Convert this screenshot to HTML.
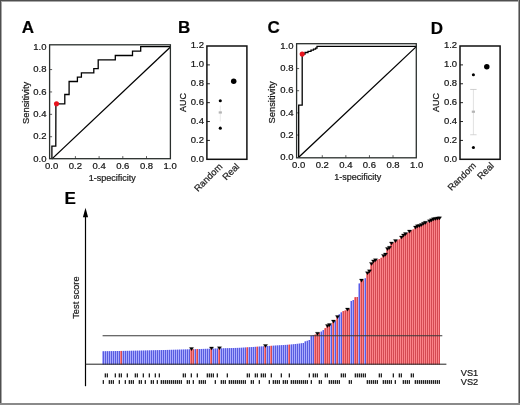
<!DOCTYPE html>
<html><head><meta charset="utf-8"><style>
html,body{margin:0;padding:0;background:#fff;}
#w{position:relative;width:520px;height:405px;overflow:hidden;background:#fff;}
svg{position:absolute;left:0;top:0;font-family:"Liberation Sans", sans-serif;will-change:transform;}
text{stroke:#1a1a1a;stroke-width:0.22px;}
.b{position:absolute;}
</style></head><body><div id="w">
<svg width="520" height="405" viewBox="0 0 520 405">
<text x="21.8" y="33.3" font-size="17" text-anchor="start" font-weight="bold" fill="#000" >A</text>
<text x="178.0" y="33.2" font-size="17" text-anchor="start" font-weight="bold" fill="#000" >B</text>
<text x="267.4" y="33.3" font-size="17" text-anchor="start" font-weight="bold" fill="#000" >C</text>
<text x="430.7" y="33.8" font-size="17" text-anchor="start" font-weight="bold" fill="#000" >D</text>
<text x="64.6" y="203.8" font-size="17" text-anchor="start" font-weight="bold" fill="#000" >E</text>
<text x="46.5" y="161.79" font-size="9.5" text-anchor="end" font-weight="normal" fill="#111" >0.0</text>
<text x="46.5" y="139.42" font-size="9.5" text-anchor="end" font-weight="normal" fill="#111" >0.2</text>
<line x1="49.6" y1="136.72" x2="52.1" y2="136.72" stroke="#333" stroke-width="0.8"/>
<text x="46.5" y="117.03" font-size="9.5" text-anchor="end" font-weight="normal" fill="#111" >0.4</text>
<line x1="49.6" y1="114.33" x2="52.1" y2="114.33" stroke="#333" stroke-width="0.8"/>
<text x="46.5" y="94.65" font-size="9.5" text-anchor="end" font-weight="normal" fill="#111" >0.6</text>
<line x1="49.6" y1="91.95" x2="52.1" y2="91.95" stroke="#333" stroke-width="0.8"/>
<text x="46.5" y="72.27" font-size="9.5" text-anchor="end" font-weight="normal" fill="#111" >0.8</text>
<line x1="49.6" y1="69.57" x2="52.1" y2="69.57" stroke="#333" stroke-width="0.8"/>
<text x="46.5" y="49.89" font-size="9.5" text-anchor="end" font-weight="normal" fill="#111" >1.0</text>
<text x="51.7" y="168.6" font-size="9.5" text-anchor="middle" font-weight="normal" fill="#111" >0.0</text>
<text x="75.4" y="168.6" font-size="9.5" text-anchor="middle" font-weight="normal" fill="#111" >0.2</text>
<line x1="75.4" y1="158.7" x2="75.4" y2="156.1" stroke="#333" stroke-width="0.8"/>
<text x="99.10" y="168.6" font-size="9.5" text-anchor="middle" font-weight="normal" fill="#111" >0.4</text>
<line x1="99.10" y1="158.7" x2="99.10" y2="156.1" stroke="#333" stroke-width="0.8"/>
<text x="122.80" y="168.6" font-size="9.5" text-anchor="middle" font-weight="normal" fill="#111" >0.6</text>
<line x1="122.80" y1="158.7" x2="122.80" y2="156.1" stroke="#333" stroke-width="0.8"/>
<text x="146.5" y="168.6" font-size="9.5" text-anchor="middle" font-weight="normal" fill="#111" >0.8</text>
<line x1="146.5" y1="158.7" x2="146.5" y2="156.1" stroke="#333" stroke-width="0.8"/>
<text x="170.2" y="168.6" font-size="9.5" text-anchor="middle" font-weight="normal" fill="#111" >1.0</text>
<line x1="51.7" y1="159.1" x2="170.2" y2="47.19" stroke="#000" stroke-width="1.3"/>
<polyline points="51.9,159.1 51.9,146.1 55.8,146.1 55.9,103.8 64.8,103.8 64.8,94.5 69.1,94.5 69.1,81.5 77.4,81.5 77.4,77.2 81.4,77.2 81.4,72.8 93.8,72.8 93.8,68.6 98.2,68.6 98.2,59.9 115.3,59.9 115.3,55.5 132.5,55.5 132.5,51.1 140.7,51.1 140.7,46.6 170.4,46.6" fill="none" stroke="#000" stroke-width="1.3" stroke-linejoin="miter"/>
<rect x="49.6" y="44.8" width="120.80" height="113.89" fill="none" stroke="#2a2f2d" stroke-width="1.3"/>
<circle cx="56.5" cy="103.8" r="2.55" fill="#e8141e"/>
<text x="112.2" y="180.9" font-size="9" text-anchor="middle" font-weight="normal" fill="#222" >1-specificity</text>
<text x="28.8" y="102.9" font-size="9.4" text-anchor="middle" fill="#151515" transform="rotate(-90 28.8 102.9)">Sensitivity</text>
<text x="293.5" y="159.89" font-size="9.5" text-anchor="end" font-weight="normal" fill="#111" >0.0</text>
<text x="293.5" y="137.73" font-size="9.5" text-anchor="end" font-weight="normal" fill="#111" >0.2</text>
<line x1="296.6" y1="135.04" x2="299.1" y2="135.04" stroke="#333" stroke-width="0.8"/>
<text x="293.5" y="115.58" font-size="9.5" text-anchor="end" font-weight="normal" fill="#111" >0.4</text>
<line x1="296.6" y1="112.88" x2="299.1" y2="112.88" stroke="#333" stroke-width="0.8"/>
<text x="293.5" y="93.41" font-size="9.5" text-anchor="end" font-weight="normal" fill="#111" >0.6</text>
<line x1="296.6" y1="90.71" x2="299.1" y2="90.71" stroke="#333" stroke-width="0.8"/>
<text x="293.5" y="71.25" font-size="9.5" text-anchor="end" font-weight="normal" fill="#111" >0.8</text>
<line x1="296.6" y1="68.55" x2="299.1" y2="68.55" stroke="#333" stroke-width="0.8"/>
<text x="293.5" y="49.09" font-size="9.5" text-anchor="end" font-weight="normal" fill="#111" >1.0</text>
<text x="298.7" y="168.0" font-size="9.5" text-anchor="middle" font-weight="normal" fill="#111" >0.0</text>
<text x="322.28" y="168.0" font-size="9.5" text-anchor="middle" font-weight="normal" fill="#111" >0.2</text>
<line x1="322.28" y1="157.8" x2="322.28" y2="155.20" stroke="#333" stroke-width="0.8"/>
<text x="345.86" y="168.0" font-size="9.5" text-anchor="middle" font-weight="normal" fill="#111" >0.4</text>
<line x1="345.86" y1="157.8" x2="345.86" y2="155.20" stroke="#333" stroke-width="0.8"/>
<text x="369.44" y="168.0" font-size="9.5" text-anchor="middle" font-weight="normal" fill="#111" >0.6</text>
<line x1="369.44" y1="157.8" x2="369.44" y2="155.20" stroke="#333" stroke-width="0.8"/>
<text x="393.02" y="168.0" font-size="9.5" text-anchor="middle" font-weight="normal" fill="#111" >0.8</text>
<line x1="393.02" y1="157.8" x2="393.02" y2="155.20" stroke="#333" stroke-width="0.8"/>
<text x="416.6" y="168.0" font-size="9.5" text-anchor="middle" font-weight="normal" fill="#111" >1.0</text>
<line x1="298.7" y1="157.2" x2="416.6" y2="46.39" stroke="#000" stroke-width="1.3"/>
<polyline points="298.7,157.4 298.7,105.2 302.2,105.2 302.2,54.0 305.0,54.0 305.0,52.5 308.0,52.5 308.0,51.3 311.0,51.3 311.0,50.2 313.5,50.2 313.5,49.2 315.6,49.2 315.6,48.2 317.0,48.2 317.0,46.4 416.3,46.4" fill="none" stroke="#000" stroke-width="1.3" stroke-linejoin="miter"/>
<rect x="296.6" y="43.7" width="119.69" height="114.10" fill="none" stroke="#2a2f2d" stroke-width="1.3"/>
<circle cx="302.2" cy="54.1" r="2.55" fill="#e8141e"/>
<text x="357.8" y="180.3" font-size="9" text-anchor="middle" font-weight="normal" fill="#222" >1-specificity</text>
<text x="275.3" y="102.4" font-size="9.4" text-anchor="middle" fill="#151515" transform="rotate(-90 275.3 102.4)">Sensitivity</text>
<text x="204.0" y="161.60" font-size="9.5" text-anchor="end" font-weight="normal" fill="#111" >0.0</text>
<text x="204.0" y="142.72" font-size="9.5" text-anchor="end" font-weight="normal" fill="#111" >0.2</text>
<line x1="206.9" y1="140.42" x2="209.9" y2="140.42" stroke="#222" stroke-width="1.0"/>
<text x="204.0" y="123.84" font-size="9.5" text-anchor="end" font-weight="normal" fill="#111" >0.4</text>
<line x1="206.9" y1="121.54" x2="209.9" y2="121.54" stroke="#222" stroke-width="1.0"/>
<text x="204.0" y="104.96" font-size="9.5" text-anchor="end" font-weight="normal" fill="#111" >0.6</text>
<line x1="206.9" y1="102.66" x2="209.9" y2="102.66" stroke="#222" stroke-width="1.0"/>
<text x="204.0" y="86.08" font-size="9.5" text-anchor="end" font-weight="normal" fill="#111" >0.8</text>
<line x1="206.9" y1="83.78" x2="209.9" y2="83.78" stroke="#222" stroke-width="1.0"/>
<text x="204.0" y="67.2" font-size="9.5" text-anchor="end" font-weight="normal" fill="#111" >1.0</text>
<line x1="206.9" y1="64.9" x2="209.9" y2="64.9" stroke="#222" stroke-width="1.0"/>
<text x="204.0" y="48.31" font-size="9.5" text-anchor="end" font-weight="normal" fill="#111" >1.2</text>
<line x1="220.3" y1="105.49" x2="220.3" y2="121.54" stroke="#e2e2e2" stroke-width="0.7"/>
<rect x="218.70" y="111.37" width="3.2" height="2.2" fill="#b4b4b4"/>
<circle cx="220.3" cy="100.77" r="1.55" fill="#000"/>
<circle cx="220.3" cy="128.14" r="1.55" fill="#000"/>
<circle cx="233.70" cy="81.13" r="2.75" fill="#000"/>
<rect x="206.9" y="46.0" width="40.0" height="113.30" fill="none" stroke="#111" stroke-width="1.5"/>
<text x="223.0" y="167.2" font-size="9.4" text-anchor="end" fill="#222" transform="rotate(-45 223.0 167.2)">Random</text>
<text x="239.9" y="167.2" font-size="9.4" text-anchor="end" fill="#222" transform="rotate(-45 239.9 167.2)">Real</text>
<text x="186.3" y="102.5" font-size="9" text-anchor="middle" fill="#151515" transform="rotate(-90 186.3 102.5)">AUC</text>
<text x="457.1" y="161.60" font-size="9.5" text-anchor="end" font-weight="normal" fill="#111" >0.0</text>
<text x="457.1" y="142.72" font-size="9.5" text-anchor="end" font-weight="normal" fill="#111" >0.2</text>
<line x1="460.0" y1="140.42" x2="463.0" y2="140.42" stroke="#222" stroke-width="1.0"/>
<text x="457.1" y="123.84" font-size="9.5" text-anchor="end" font-weight="normal" fill="#111" >0.4</text>
<line x1="460.0" y1="121.54" x2="463.0" y2="121.54" stroke="#222" stroke-width="1.0"/>
<text x="457.1" y="104.96" font-size="9.5" text-anchor="end" font-weight="normal" fill="#111" >0.6</text>
<line x1="460.0" y1="102.66" x2="463.0" y2="102.66" stroke="#222" stroke-width="1.0"/>
<text x="457.1" y="86.08" font-size="9.5" text-anchor="end" font-weight="normal" fill="#111" >0.8</text>
<line x1="460.0" y1="83.78" x2="463.0" y2="83.78" stroke="#222" stroke-width="1.0"/>
<text x="457.1" y="67.2" font-size="9.5" text-anchor="end" font-weight="normal" fill="#111" >1.0</text>
<line x1="460.0" y1="64.9" x2="463.0" y2="64.9" stroke="#222" stroke-width="1.0"/>
<text x="457.1" y="48.31" font-size="9.5" text-anchor="end" font-weight="normal" fill="#111" >1.2</text>
<line x1="473.4" y1="89.44" x2="473.4" y2="134.75" stroke="#d4d4d4" stroke-width="0.7"/>
<line x1="470.2" y1="89.44" x2="476.59" y2="89.44" stroke="#c4c4c4" stroke-width="0.8"/>
<line x1="470.2" y1="134.75" x2="476.59" y2="134.75" stroke="#cccccc" stroke-width="0.8"/>
<rect x="471.79" y="110.62" width="3.2" height="2.2" fill="#b4b4b4"/>
<circle cx="473.4" cy="74.71" r="1.55" fill="#000"/>
<circle cx="473.4" cy="147.5" r="1.55" fill="#000"/>
<circle cx="486.8" cy="66.78" r="2.75" fill="#000"/>
<rect x="460.0" y="46.0" width="40.10" height="113.30" fill="none" stroke="#111" stroke-width="1.5"/>
<text x="476.6" y="166.3" font-size="9.4" text-anchor="end" fill="#222" transform="rotate(-45 476.6 166.3)">Random</text>
<text x="494.6" y="166.3" font-size="9.4" text-anchor="end" fill="#222" transform="rotate(-45 494.6 166.3)">Real</text>
<text x="438.5" y="102.5" font-size="9" text-anchor="middle" fill="#151515" transform="rotate(-90 438.5 102.5)">AUC</text>
<rect x="102" y="351.28" width="2" height="13.22" fill="#b4b6ff"/>
<rect x="102.9" y="351.28" width="1.1" height="13.22" fill="#585ce0"/>
<rect x="104" y="351.24" width="2" height="13.26" fill="#b4b6ff"/>
<rect x="104.9" y="351.24" width="1.1" height="13.26" fill="#585ce0"/>
<rect x="106" y="351.21" width="2" height="13.29" fill="#b4b6ff"/>
<rect x="106.9" y="351.21" width="1.1" height="13.29" fill="#585ce0"/>
<rect x="108" y="351.17" width="2" height="13.33" fill="#b4b6ff"/>
<rect x="108.9" y="351.17" width="1.1" height="13.33" fill="#585ce0"/>
<rect x="110" y="351.13" width="2" height="13.37" fill="#b4b6ff"/>
<rect x="110.9" y="351.13" width="1.1" height="13.37" fill="#585ce0"/>
<rect x="112" y="351.10" width="2" height="13.40" fill="#b4b6ff"/>
<rect x="112.9" y="351.10" width="1.1" height="13.40" fill="#585ce0"/>
<rect x="114" y="351.06" width="2" height="13.44" fill="#b4b6ff"/>
<rect x="114.9" y="351.06" width="1.1" height="13.44" fill="#585ce0"/>
<rect x="116" y="351.02" width="2" height="13.48" fill="#b4b6ff"/>
<rect x="116.9" y="351.02" width="1.1" height="13.48" fill="#585ce0"/>
<rect x="118" y="350.99" width="2" height="13.51" fill="#b4b6ff"/>
<rect x="118.9" y="350.99" width="1.1" height="13.51" fill="#585ce0"/>
<rect x="120" y="350.95" width="2" height="13.55" fill="#ff8d90"/>
<rect x="120.9" y="350.95" width="1.1" height="13.55" fill="#d44a52"/>
<rect x="122" y="350.91" width="2" height="13.59" fill="#b4b6ff"/>
<rect x="122.9" y="350.91" width="1.1" height="13.59" fill="#585ce0"/>
<rect x="124" y="350.88" width="2" height="13.62" fill="#b4b6ff"/>
<rect x="124.9" y="350.88" width="1.1" height="13.62" fill="#585ce0"/>
<rect x="126" y="350.84" width="2" height="13.66" fill="#b4b6ff"/>
<rect x="126.9" y="350.84" width="1.1" height="13.66" fill="#585ce0"/>
<rect x="128" y="350.80" width="2" height="13.70" fill="#b4b6ff"/>
<rect x="128.9" y="350.80" width="1.1" height="13.70" fill="#585ce0"/>
<rect x="130" y="350.77" width="2" height="13.73" fill="#b4b6ff"/>
<rect x="130.9" y="350.77" width="1.1" height="13.73" fill="#585ce0"/>
<rect x="132" y="350.73" width="2" height="13.77" fill="#b4b6ff"/>
<rect x="132.9" y="350.73" width="1.1" height="13.77" fill="#585ce0"/>
<rect x="134" y="350.69" width="2" height="13.81" fill="#b4b6ff"/>
<rect x="134.9" y="350.69" width="1.1" height="13.81" fill="#585ce0"/>
<rect x="136" y="350.66" width="2" height="13.84" fill="#b4b6ff"/>
<rect x="136.9" y="350.66" width="1.1" height="13.84" fill="#585ce0"/>
<rect x="138" y="350.62" width="2" height="13.88" fill="#b4b6ff"/>
<rect x="138.9" y="350.62" width="1.1" height="13.88" fill="#585ce0"/>
<rect x="140" y="350.58" width="2" height="13.92" fill="#b4b6ff"/>
<rect x="140.9" y="350.58" width="1.1" height="13.92" fill="#585ce0"/>
<rect x="142" y="350.53" width="2" height="13.97" fill="#b4b6ff"/>
<rect x="142.9" y="350.53" width="1.1" height="13.97" fill="#585ce0"/>
<rect x="144" y="350.48" width="2" height="14.02" fill="#b4b6ff"/>
<rect x="144.9" y="350.48" width="1.1" height="14.02" fill="#585ce0"/>
<rect x="146" y="350.43" width="2" height="14.07" fill="#b4b6ff"/>
<rect x="146.9" y="350.43" width="1.1" height="14.07" fill="#585ce0"/>
<rect x="148" y="350.38" width="2" height="14.12" fill="#b4b6ff"/>
<rect x="148.9" y="350.38" width="1.1" height="14.12" fill="#585ce0"/>
<rect x="150" y="350.33" width="2" height="14.17" fill="#b4b6ff"/>
<rect x="150.9" y="350.33" width="1.1" height="14.17" fill="#585ce0"/>
<rect x="152" y="350.28" width="2" height="14.22" fill="#b4b6ff"/>
<rect x="152.9" y="350.28" width="1.1" height="14.22" fill="#585ce0"/>
<rect x="154" y="350.23" width="2" height="14.27" fill="#b4b6ff"/>
<rect x="154.9" y="350.23" width="1.1" height="14.27" fill="#585ce0"/>
<rect x="156" y="350.18" width="2" height="14.32" fill="#b4b6ff"/>
<rect x="156.9" y="350.18" width="1.1" height="14.32" fill="#585ce0"/>
<rect x="158" y="350.12" width="2" height="14.38" fill="#b4b6ff"/>
<rect x="158.9" y="350.12" width="1.1" height="14.38" fill="#585ce0"/>
<rect x="160" y="350.08" width="2" height="14.42" fill="#b4b6ff"/>
<rect x="160.9" y="350.08" width="1.1" height="14.42" fill="#585ce0"/>
<rect x="162" y="350.03" width="2" height="14.47" fill="#b4b6ff"/>
<rect x="162.9" y="350.03" width="1.1" height="14.47" fill="#585ce0"/>
<rect x="164" y="349.98" width="2" height="14.52" fill="#b4b6ff"/>
<rect x="164.9" y="349.98" width="1.1" height="14.52" fill="#585ce0"/>
<rect x="166" y="349.93" width="2" height="14.57" fill="#b4b6ff"/>
<rect x="166.9" y="349.93" width="1.1" height="14.57" fill="#585ce0"/>
<rect x="168" y="349.88" width="2" height="14.62" fill="#b4b6ff"/>
<rect x="168.9" y="349.88" width="1.1" height="14.62" fill="#585ce0"/>
<rect x="170" y="349.83" width="2" height="14.67" fill="#b4b6ff"/>
<rect x="170.9" y="349.83" width="1.1" height="14.67" fill="#585ce0"/>
<rect x="172" y="349.78" width="2" height="14.72" fill="#b4b6ff"/>
<rect x="172.9" y="349.78" width="1.1" height="14.72" fill="#585ce0"/>
<rect x="174" y="349.73" width="2" height="14.77" fill="#b4b6ff"/>
<rect x="174.9" y="349.73" width="1.1" height="14.77" fill="#585ce0"/>
<rect x="176" y="349.68" width="2" height="14.82" fill="#b4b6ff"/>
<rect x="176.9" y="349.68" width="1.1" height="14.82" fill="#585ce0"/>
<rect x="178" y="349.62" width="2" height="14.88" fill="#b4b6ff"/>
<rect x="178.9" y="349.62" width="1.1" height="14.88" fill="#585ce0"/>
<rect x="180" y="349.57" width="2" height="14.93" fill="#b4b6ff"/>
<rect x="180.9" y="349.57" width="1.1" height="14.93" fill="#585ce0"/>
<rect x="182" y="349.51" width="2" height="14.99" fill="#b4b6ff"/>
<rect x="182.9" y="349.51" width="1.1" height="14.99" fill="#585ce0"/>
<rect x="184" y="349.45" width="2" height="15.05" fill="#b4b6ff"/>
<rect x="184.9" y="349.45" width="1.1" height="15.05" fill="#585ce0"/>
<rect x="186" y="349.39" width="2" height="15.11" fill="#b4b6ff"/>
<rect x="186.9" y="349.39" width="1.1" height="15.11" fill="#585ce0"/>
<rect x="188" y="349.33" width="2" height="15.17" fill="#b4b6ff"/>
<rect x="188.9" y="349.33" width="1.1" height="15.17" fill="#585ce0"/>
<rect x="190" y="349.27" width="2" height="15.23" fill="#ff8d90"/>
<rect x="190.9" y="349.27" width="1.1" height="15.23" fill="#d44a52"/>
<rect x="192" y="349.21" width="2" height="15.29" fill="#ff8d90"/>
<rect x="192.9" y="349.21" width="1.1" height="15.29" fill="#d44a52"/>
<rect x="194" y="349.15" width="2" height="15.35" fill="#b4b6ff"/>
<rect x="194.9" y="349.15" width="1.1" height="15.35" fill="#585ce0"/>
<rect x="196" y="349.09" width="2" height="15.41" fill="#ff8d90"/>
<rect x="196.9" y="349.09" width="1.1" height="15.41" fill="#d44a52"/>
<rect x="198" y="349.03" width="2" height="15.47" fill="#b4b6ff"/>
<rect x="198.9" y="349.03" width="1.1" height="15.47" fill="#585ce0"/>
<rect x="200" y="348.97" width="2" height="15.53" fill="#b4b6ff"/>
<rect x="200.9" y="348.97" width="1.1" height="15.53" fill="#585ce0"/>
<rect x="202" y="348.91" width="2" height="15.59" fill="#b4b6ff"/>
<rect x="202.9" y="348.91" width="1.1" height="15.59" fill="#585ce0"/>
<rect x="204" y="348.85" width="2" height="15.65" fill="#b4b6ff"/>
<rect x="204.9" y="348.85" width="1.1" height="15.65" fill="#585ce0"/>
<rect x="206" y="348.79" width="2" height="15.71" fill="#b4b6ff"/>
<rect x="206.9" y="348.79" width="1.1" height="15.71" fill="#585ce0"/>
<rect x="208" y="348.73" width="2" height="15.77" fill="#b4b6ff"/>
<rect x="208.9" y="348.73" width="1.1" height="15.77" fill="#585ce0"/>
<rect x="210" y="348.67" width="2" height="15.83" fill="#ff8d90"/>
<rect x="210.9" y="348.67" width="1.1" height="15.83" fill="#d44a52"/>
<rect x="212" y="348.61" width="2" height="15.89" fill="#b4b6ff"/>
<rect x="212.9" y="348.61" width="1.1" height="15.89" fill="#585ce0"/>
<rect x="214" y="348.55" width="2" height="15.95" fill="#b4b6ff"/>
<rect x="214.9" y="348.55" width="1.1" height="15.95" fill="#585ce0"/>
<rect x="216" y="348.49" width="2" height="16.01" fill="#b4b6ff"/>
<rect x="216.9" y="348.49" width="1.1" height="16.01" fill="#585ce0"/>
<rect x="218" y="348.43" width="2" height="16.07" fill="#ff8d90"/>
<rect x="218.9" y="348.43" width="1.1" height="16.07" fill="#d44a52"/>
<rect x="220" y="348.37" width="2" height="16.13" fill="#b4b6ff"/>
<rect x="220.9" y="348.37" width="1.1" height="16.13" fill="#585ce0"/>
<rect x="222" y="348.31" width="2" height="16.19" fill="#b4b6ff"/>
<rect x="222.9" y="348.31" width="1.1" height="16.19" fill="#585ce0"/>
<rect x="224" y="348.25" width="2" height="16.25" fill="#b4b6ff"/>
<rect x="224.9" y="348.25" width="1.1" height="16.25" fill="#585ce0"/>
<rect x="226" y="348.19" width="2" height="16.31" fill="#b4b6ff"/>
<rect x="226.9" y="348.19" width="1.1" height="16.31" fill="#585ce0"/>
<rect x="228" y="348.13" width="2" height="16.37" fill="#b4b6ff"/>
<rect x="228.9" y="348.13" width="1.1" height="16.37" fill="#585ce0"/>
<rect x="230" y="348.07" width="2" height="16.43" fill="#b4b6ff"/>
<rect x="230.9" y="348.07" width="1.1" height="16.43" fill="#585ce0"/>
<rect x="232" y="348.01" width="2" height="16.49" fill="#b4b6ff"/>
<rect x="232.9" y="348.01" width="1.1" height="16.49" fill="#585ce0"/>
<rect x="234" y="347.95" width="2" height="16.55" fill="#b4b6ff"/>
<rect x="234.9" y="347.95" width="1.1" height="16.55" fill="#585ce0"/>
<rect x="236" y="347.89" width="2" height="16.61" fill="#b4b6ff"/>
<rect x="236.9" y="347.89" width="1.1" height="16.61" fill="#585ce0"/>
<rect x="238" y="347.83" width="2" height="16.67" fill="#b4b6ff"/>
<rect x="238.9" y="347.83" width="1.1" height="16.67" fill="#585ce0"/>
<rect x="240" y="347.74" width="2" height="16.76" fill="#b4b6ff"/>
<rect x="240.9" y="347.74" width="1.1" height="16.76" fill="#585ce0"/>
<rect x="242" y="347.61" width="2" height="16.89" fill="#b4b6ff"/>
<rect x="242.9" y="347.61" width="1.1" height="16.89" fill="#585ce0"/>
<rect x="244" y="347.48" width="2" height="17.02" fill="#b4b6ff"/>
<rect x="244.9" y="347.48" width="1.1" height="17.02" fill="#585ce0"/>
<rect x="246" y="347.35" width="2" height="17.15" fill="#ff8d90"/>
<rect x="246.9" y="347.35" width="1.1" height="17.15" fill="#d44a52"/>
<rect x="248" y="347.22" width="2" height="17.28" fill="#b4b6ff"/>
<rect x="248.9" y="347.22" width="1.1" height="17.28" fill="#585ce0"/>
<rect x="250" y="347.10" width="2" height="17.40" fill="#b4b6ff"/>
<rect x="250.9" y="347.10" width="1.1" height="17.40" fill="#585ce0"/>
<rect x="252" y="346.97" width="2" height="17.53" fill="#b4b6ff"/>
<rect x="252.9" y="346.97" width="1.1" height="17.53" fill="#585ce0"/>
<rect x="254" y="346.84" width="2" height="17.66" fill="#b4b6ff"/>
<rect x="254.9" y="346.84" width="1.1" height="17.66" fill="#585ce0"/>
<rect x="256" y="346.71" width="2" height="17.79" fill="#ff8d90"/>
<rect x="256.9" y="346.71" width="1.1" height="17.79" fill="#d44a52"/>
<rect x="258" y="346.58" width="2" height="17.92" fill="#b4b6ff"/>
<rect x="258.9" y="346.58" width="1.1" height="17.92" fill="#585ce0"/>
<rect x="260" y="346.46" width="2" height="18.04" fill="#b4b6ff"/>
<rect x="260.9" y="346.46" width="1.1" height="18.04" fill="#585ce0"/>
<rect x="262" y="346.33" width="2" height="18.17" fill="#b4b6ff"/>
<rect x="262.9" y="346.33" width="1.1" height="18.17" fill="#585ce0"/>
<rect x="264" y="346.20" width="2" height="18.30" fill="#ff8d90"/>
<rect x="264.9" y="346.20" width="1.1" height="18.30" fill="#d44a52"/>
<rect x="266" y="346.07" width="2" height="18.43" fill="#b4b6ff"/>
<rect x="266.9" y="346.07" width="1.1" height="18.43" fill="#585ce0"/>
<rect x="268" y="345.94" width="2" height="18.56" fill="#b4b6ff"/>
<rect x="268.9" y="345.94" width="1.1" height="18.56" fill="#585ce0"/>
<rect x="270" y="345.82" width="2" height="18.68" fill="#ff8d90"/>
<rect x="270.9" y="345.82" width="1.1" height="18.68" fill="#d44a52"/>
<rect x="272" y="345.69" width="2" height="18.81" fill="#b4b6ff"/>
<rect x="272.9" y="345.69" width="1.1" height="18.81" fill="#585ce0"/>
<rect x="274" y="345.56" width="2" height="18.94" fill="#b4b6ff"/>
<rect x="274.9" y="345.56" width="1.1" height="18.94" fill="#585ce0"/>
<rect x="276" y="345.43" width="2" height="19.07" fill="#b4b6ff"/>
<rect x="276.9" y="345.43" width="1.1" height="19.07" fill="#585ce0"/>
<rect x="278" y="345.30" width="2" height="19.20" fill="#b4b6ff"/>
<rect x="278.9" y="345.30" width="1.1" height="19.20" fill="#585ce0"/>
<rect x="280" y="345.18" width="2" height="19.32" fill="#b4b6ff"/>
<rect x="280.9" y="345.18" width="1.1" height="19.32" fill="#585ce0"/>
<rect x="282" y="345.05" width="2" height="19.45" fill="#b4b6ff"/>
<rect x="282.9" y="345.05" width="1.1" height="19.45" fill="#585ce0"/>
<rect x="284" y="344.92" width="2" height="19.58" fill="#b4b6ff"/>
<rect x="284.9" y="344.92" width="1.1" height="19.58" fill="#585ce0"/>
<rect x="286" y="344.79" width="2" height="19.71" fill="#b4b6ff"/>
<rect x="286.9" y="344.79" width="1.1" height="19.71" fill="#585ce0"/>
<rect x="288" y="344.66" width="2" height="19.84" fill="#ff8d90"/>
<rect x="288.9" y="344.66" width="1.1" height="19.84" fill="#d44a52"/>
<rect x="290" y="344.49" width="2" height="20.01" fill="#b4b6ff"/>
<rect x="290.9" y="344.49" width="1.1" height="20.01" fill="#585ce0"/>
<rect x="292" y="344.27" width="2" height="20.23" fill="#b4b6ff"/>
<rect x="292.9" y="344.27" width="1.1" height="20.23" fill="#585ce0"/>
<rect x="294" y="344.05" width="2" height="20.45" fill="#b4b6ff"/>
<rect x="294.9" y="344.05" width="1.1" height="20.45" fill="#585ce0"/>
<rect x="296" y="343.83" width="2" height="20.67" fill="#b4b6ff"/>
<rect x="296.9" y="343.83" width="1.1" height="20.67" fill="#585ce0"/>
<rect x="298" y="343.61" width="2" height="20.89" fill="#b4b6ff"/>
<rect x="298.9" y="343.61" width="1.1" height="20.89" fill="#585ce0"/>
<rect x="300" y="343.30" width="2" height="21.20" fill="#b4b6ff"/>
<rect x="300.9" y="343.30" width="1.1" height="21.20" fill="#585ce0"/>
<rect x="302" y="343.00" width="2" height="21.50" fill="#b4b6ff"/>
<rect x="302.9" y="343.00" width="1.1" height="21.50" fill="#585ce0"/>
<rect x="304" y="341.40" width="2" height="23.10" fill="#b4b6ff"/>
<rect x="304.9" y="341.40" width="1.1" height="23.10" fill="#585ce0"/>
<rect x="306" y="340.80" width="2" height="23.70" fill="#b4b6ff"/>
<rect x="306.9" y="340.80" width="1.1" height="23.70" fill="#585ce0"/>
<rect x="308" y="340.00" width="2" height="24.50" fill="#b4b6ff"/>
<rect x="308.9" y="340.00" width="1.1" height="24.50" fill="#585ce0"/>
<rect x="310" y="335.90" width="2" height="28.60" fill="#b4b6ff"/>
<rect x="310.9" y="335.90" width="1.1" height="28.60" fill="#585ce0"/>
<rect x="312" y="335.30" width="2" height="29.20" fill="#b4b6ff"/>
<rect x="312.9" y="335.30" width="1.1" height="29.20" fill="#585ce0"/>
<rect x="314" y="334.60" width="2" height="29.90" fill="#ff8d90"/>
<rect x="314.9" y="334.60" width="1.1" height="29.90" fill="#d44a52"/>
<rect x="316" y="334.00" width="2" height="30.50" fill="#ff8d90"/>
<rect x="316.9" y="334.00" width="1.1" height="30.50" fill="#d44a52"/>
<rect x="318" y="332.80" width="2" height="31.70" fill="#ff8d90"/>
<rect x="318.9" y="332.80" width="1.1" height="31.70" fill="#d44a52"/>
<rect x="320" y="331.60" width="2" height="32.90" fill="#b4b6ff"/>
<rect x="320.9" y="331.60" width="1.1" height="32.90" fill="#585ce0"/>
<rect x="322" y="330.10" width="2" height="34.40" fill="#b4b6ff"/>
<rect x="322.9" y="330.10" width="1.1" height="34.40" fill="#585ce0"/>
<rect x="324" y="328.20" width="2" height="36.30" fill="#ff8d90"/>
<rect x="324.9" y="328.20" width="1.1" height="36.30" fill="#d44a52"/>
<rect x="326" y="326.30" width="2" height="38.20" fill="#ff8d90"/>
<rect x="326.9" y="326.30" width="1.1" height="38.20" fill="#d44a52"/>
<rect x="328" y="325.30" width="2" height="39.20" fill="#ff8d90"/>
<rect x="328.9" y="325.30" width="1.1" height="39.20" fill="#d44a52"/>
<rect x="330" y="324.50" width="2" height="40.00" fill="#b4b6ff"/>
<rect x="330.9" y="324.50" width="1.1" height="40.00" fill="#585ce0"/>
<rect x="332" y="321.80" width="2" height="42.70" fill="#ff8d90"/>
<rect x="332.9" y="321.80" width="1.1" height="42.70" fill="#d44a52"/>
<rect x="334" y="321.00" width="2" height="43.50" fill="#b4b6ff"/>
<rect x="334.9" y="321.00" width="1.1" height="43.50" fill="#585ce0"/>
<rect x="336" y="317.30" width="2" height="47.20" fill="#ff8d90"/>
<rect x="336.9" y="317.30" width="1.1" height="47.20" fill="#d44a52"/>
<rect x="338" y="314.30" width="2" height="50.20" fill="#b4b6ff"/>
<rect x="338.9" y="314.30" width="1.1" height="50.20" fill="#585ce0"/>
<rect x="340" y="312.40" width="2" height="52.10" fill="#b4b6ff"/>
<rect x="340.9" y="312.40" width="1.1" height="52.10" fill="#585ce0"/>
<rect x="342" y="311.10" width="2" height="53.40" fill="#ff8d90"/>
<rect x="342.9" y="311.10" width="1.1" height="53.40" fill="#d44a52"/>
<rect x="344" y="310.50" width="2" height="54.00" fill="#ff8d90"/>
<rect x="344.9" y="310.50" width="1.1" height="54.00" fill="#d44a52"/>
<rect x="346" y="309.80" width="2" height="54.70" fill="#ff8d90"/>
<rect x="346.9" y="309.80" width="1.1" height="54.70" fill="#d44a52"/>
<rect x="348" y="309.00" width="2" height="55.50" fill="#ff8d90"/>
<rect x="348.9" y="309.00" width="1.1" height="55.50" fill="#d44a52"/>
<rect x="350" y="301.00" width="2" height="63.50" fill="#b4b6ff"/>
<rect x="350.9" y="301.00" width="1.1" height="63.50" fill="#585ce0"/>
<rect x="352" y="300.00" width="2" height="64.50" fill="#b4b6ff"/>
<rect x="352.9" y="300.00" width="1.1" height="64.50" fill="#585ce0"/>
<rect x="354" y="297.20" width="2" height="67.30" fill="#ff8d90"/>
<rect x="354.9" y="297.20" width="1.1" height="67.30" fill="#d44a52"/>
<rect x="356" y="297.00" width="2" height="67.50" fill="#ff8d90"/>
<rect x="356.9" y="297.00" width="1.1" height="67.50" fill="#d44a52"/>
<rect x="358" y="283.50" width="2" height="81.00" fill="#b4b6ff"/>
<rect x="358.9" y="283.50" width="1.1" height="81.00" fill="#585ce0"/>
<rect x="360" y="280.80" width="2" height="83.70" fill="#ff8d90"/>
<rect x="360.9" y="280.80" width="1.1" height="83.70" fill="#d44a52"/>
<rect x="362" y="280.30" width="2" height="84.20" fill="#ff8d90"/>
<rect x="362.9" y="280.30" width="1.1" height="84.20" fill="#d44a52"/>
<rect x="364" y="278.30" width="2" height="86.20" fill="#b4b6ff"/>
<rect x="364.9" y="278.30" width="1.1" height="86.20" fill="#585ce0"/>
<rect x="366" y="273.40" width="2" height="91.10" fill="#ff8d90"/>
<rect x="366.9" y="273.40" width="1.1" height="91.10" fill="#d44a52"/>
<rect x="368" y="271.50" width="2" height="93.00" fill="#ff8d90"/>
<rect x="368.9" y="271.50" width="1.1" height="93.00" fill="#d44a52"/>
<rect x="370" y="264.10" width="2" height="100.40" fill="#ff8d90"/>
<rect x="370.9" y="264.10" width="1.1" height="100.40" fill="#d44a52"/>
<rect x="372" y="261.60" width="2" height="102.90" fill="#ff8d90"/>
<rect x="372.9" y="261.60" width="1.1" height="102.90" fill="#d44a52"/>
<rect x="374" y="260.40" width="2" height="104.10" fill="#ff8d90"/>
<rect x="374.9" y="260.40" width="1.1" height="104.10" fill="#d44a52"/>
<rect x="376" y="259.80" width="2" height="104.70" fill="#ff8d90"/>
<rect x="376.9" y="259.80" width="1.1" height="104.70" fill="#d44a52"/>
<rect x="378" y="259.00" width="2" height="105.50" fill="#ff8d90"/>
<rect x="378.9" y="259.00" width="1.1" height="105.50" fill="#d44a52"/>
<rect x="380" y="257.80" width="2" height="106.70" fill="#ff8d90"/>
<rect x="380.9" y="257.80" width="1.1" height="106.70" fill="#d44a52"/>
<rect x="382" y="256.10" width="2" height="108.40" fill="#ff8d90"/>
<rect x="382.9" y="256.10" width="1.1" height="108.40" fill="#d44a52"/>
<rect x="384" y="254.80" width="2" height="109.70" fill="#ff8d90"/>
<rect x="384.9" y="254.80" width="1.1" height="109.70" fill="#d44a52"/>
<rect x="386" y="249.30" width="2" height="115.20" fill="#ff8d90"/>
<rect x="386.9" y="249.30" width="1.1" height="115.20" fill="#d44a52"/>
<rect x="388" y="248.00" width="2" height="116.50" fill="#ff8d90"/>
<rect x="388.9" y="248.00" width="1.1" height="116.50" fill="#d44a52"/>
<rect x="390" y="243.70" width="2" height="120.80" fill="#ff8d90"/>
<rect x="390.9" y="243.70" width="1.1" height="120.80" fill="#d44a52"/>
<rect x="392" y="242.80" width="2" height="121.70" fill="#ff8d90"/>
<rect x="392.9" y="242.80" width="1.1" height="121.70" fill="#d44a52"/>
<rect x="394" y="241.30" width="2" height="123.20" fill="#ff8d90"/>
<rect x="394.9" y="241.30" width="1.1" height="123.20" fill="#d44a52"/>
<rect x="396" y="240.30" width="2" height="124.20" fill="#ff8d90"/>
<rect x="396.9" y="240.30" width="1.1" height="124.20" fill="#d44a52"/>
<rect x="398" y="239.40" width="2" height="125.10" fill="#ff8d90"/>
<rect x="398.9" y="239.40" width="1.1" height="125.10" fill="#d44a52"/>
<rect x="400" y="237.70" width="2" height="126.80" fill="#ff8d90"/>
<rect x="400.9" y="237.70" width="1.1" height="126.80" fill="#d44a52"/>
<rect x="402" y="235.70" width="2" height="128.80" fill="#ff8d90"/>
<rect x="402.9" y="235.70" width="1.1" height="128.80" fill="#d44a52"/>
<rect x="404" y="234.30" width="2" height="130.20" fill="#ff8d90"/>
<rect x="404.9" y="234.30" width="1.1" height="130.20" fill="#d44a52"/>
<rect x="406" y="233.00" width="2" height="131.50" fill="#ff8d90"/>
<rect x="406.9" y="233.00" width="1.1" height="131.50" fill="#d44a52"/>
<rect x="408" y="231.80" width="2" height="132.70" fill="#ff8d90"/>
<rect x="408.9" y="231.80" width="1.1" height="132.70" fill="#d44a52"/>
<rect x="410" y="230.60" width="2" height="133.90" fill="#ff8d90"/>
<rect x="410.9" y="230.60" width="1.1" height="133.90" fill="#d44a52"/>
<rect x="412" y="229.40" width="2" height="135.10" fill="#ff8d90"/>
<rect x="412.9" y="229.40" width="1.1" height="135.10" fill="#d44a52"/>
<rect x="414" y="227.80" width="2" height="136.70" fill="#ff8d90"/>
<rect x="414.9" y="227.80" width="1.1" height="136.70" fill="#d44a52"/>
<rect x="416" y="226.50" width="2" height="138.00" fill="#ff8d90"/>
<rect x="416.9" y="226.50" width="1.1" height="138.00" fill="#d44a52"/>
<rect x="418" y="226.10" width="2" height="138.40" fill="#ff8d90"/>
<rect x="418.9" y="226.10" width="1.1" height="138.40" fill="#d44a52"/>
<rect x="420" y="225.20" width="2" height="139.30" fill="#ff8d90"/>
<rect x="420.9" y="225.20" width="1.1" height="139.30" fill="#d44a52"/>
<rect x="422" y="223.90" width="2" height="140.60" fill="#ff8d90"/>
<rect x="422.9" y="223.90" width="1.1" height="140.60" fill="#d44a52"/>
<rect x="424" y="223.00" width="2" height="141.50" fill="#ff8d90"/>
<rect x="424.9" y="223.00" width="1.1" height="141.50" fill="#d44a52"/>
<rect x="426" y="222.40" width="2" height="142.10" fill="#ff8d90"/>
<rect x="426.9" y="222.40" width="1.1" height="142.10" fill="#d44a52"/>
<rect x="428" y="221.50" width="2" height="143.00" fill="#ff8d90"/>
<rect x="428.9" y="221.50" width="1.1" height="143.00" fill="#d44a52"/>
<rect x="430" y="220.50" width="2" height="144.00" fill="#ff8d90"/>
<rect x="430.9" y="220.50" width="1.1" height="144.00" fill="#d44a52"/>
<rect x="432" y="219.50" width="2" height="145.00" fill="#ff8d90"/>
<rect x="432.9" y="219.50" width="1.1" height="145.00" fill="#d44a52"/>
<rect x="434" y="219.10" width="2" height="145.40" fill="#ff8d90"/>
<rect x="434.9" y="219.10" width="1.1" height="145.40" fill="#d44a52"/>
<rect x="436" y="218.80" width="2" height="145.70" fill="#ff8d90"/>
<rect x="436.9" y="218.80" width="1.1" height="145.70" fill="#d44a52"/>
<rect x="438" y="218.50" width="2" height="146.00" fill="#ff8d90"/>
<rect x="438.9" y="218.50" width="1.1" height="146.00" fill="#d44a52"/>
<line x1="102.6" y1="335.75" x2="442.3" y2="335.75" stroke="#383838" stroke-width="1.2"/>
<polygon points="189.4,347.57 193.6,347.57 191.5,350.67" fill="#000" stroke="#000" stroke-width="0.3" stroke-linejoin="round"/>
<polygon points="209.4,346.97 213.6,346.97 211.5,350.07" fill="#000" stroke="#000" stroke-width="0.3" stroke-linejoin="round"/>
<polygon points="217.4,346.73 221.6,346.73 219.5,349.83" fill="#000" stroke="#000" stroke-width="0.3" stroke-linejoin="round"/>
<polygon points="263.4,344.5 267.6,344.5 265.5,347.59" fill="#000" stroke="#000" stroke-width="0.3" stroke-linejoin="round"/>
<polygon points="315.4,332.3 319.6,332.3 317.5,335.4" fill="#000" stroke="#000" stroke-width="0.3" stroke-linejoin="round"/>
<polygon points="325.4,324.6 329.6,324.6 327.5,327.7" fill="#000" stroke="#000" stroke-width="0.3" stroke-linejoin="round"/>
<polygon points="327.4,323.6 331.6,323.6 329.5,326.7" fill="#000" stroke="#000" stroke-width="0.3" stroke-linejoin="round"/>
<polygon points="331.4,320.1 335.6,320.1 333.5,323.2" fill="#000" stroke="#000" stroke-width="0.3" stroke-linejoin="round"/>
<polygon points="335.4,315.6 339.6,315.6 337.5,318.7" fill="#000" stroke="#000" stroke-width="0.3" stroke-linejoin="round"/>
<polygon points="345.4,308.1 349.6,308.1 347.5,311.2" fill="#000" stroke="#000" stroke-width="0.3" stroke-linejoin="round"/>
<polygon points="359.4,279.1 363.6,279.1 361.5,282.2" fill="#000" stroke="#000" stroke-width="0.3" stroke-linejoin="round"/>
<polygon points="365.4,271.7 369.6,271.7 367.5,274.79" fill="#000" stroke="#000" stroke-width="0.3" stroke-linejoin="round"/>
<polygon points="367.4,269.8 371.6,269.8 369.5,272.9" fill="#000" stroke="#000" stroke-width="0.3" stroke-linejoin="round"/>
<polygon points="369.4,262.40 373.6,262.40 371.5,265.5" fill="#000" stroke="#000" stroke-width="0.3" stroke-linejoin="round"/>
<polygon points="371.4,259.90 375.6,259.90 373.5,263.0" fill="#000" stroke="#000" stroke-width="0.3" stroke-linejoin="round"/>
<polygon points="373.4,258.7 377.6,258.7 375.5,261.79" fill="#000" stroke="#000" stroke-width="0.3" stroke-linejoin="round"/>
<polygon points="381.4,254.40 385.6,254.40 383.5,257.5" fill="#000" stroke="#000" stroke-width="0.3" stroke-linejoin="round"/>
<polygon points="383.4,253.10 387.6,253.10 385.5,256.2" fill="#000" stroke="#000" stroke-width="0.3" stroke-linejoin="round"/>
<polygon points="385.4,247.60 389.6,247.60 387.5,250.70" fill="#000" stroke="#000" stroke-width="0.3" stroke-linejoin="round"/>
<polygon points="387.4,246.3 391.6,246.3 389.5,249.4" fill="#000" stroke="#000" stroke-width="0.3" stroke-linejoin="round"/>
<polygon points="389.4,242.0 393.6,242.0 391.5,245.1" fill="#000" stroke="#000" stroke-width="0.3" stroke-linejoin="round"/>
<polygon points="393.4,239.60 397.6,239.60 395.5,242.70" fill="#000" stroke="#000" stroke-width="0.3" stroke-linejoin="round"/>
<polygon points="399.4,236.00 403.6,236.00 401.5,239.10" fill="#000" stroke="#000" stroke-width="0.3" stroke-linejoin="round"/>
<polygon points="401.4,234.00 405.6,234.00 403.5,237.10" fill="#000" stroke="#000" stroke-width="0.3" stroke-linejoin="round"/>
<polygon points="403.4,232.60 407.6,232.60 405.5,235.70" fill="#000" stroke="#000" stroke-width="0.3" stroke-linejoin="round"/>
<polygon points="407.4,230.10 411.6,230.10 409.5,233.20" fill="#000" stroke="#000" stroke-width="0.3" stroke-linejoin="round"/>
<polygon points="413.4,226.10 417.6,226.10 415.5,229.20" fill="#000" stroke="#000" stroke-width="0.3" stroke-linejoin="round"/>
<polygon points="415.4,224.8 419.6,224.8 417.5,227.9" fill="#000" stroke="#000" stroke-width="0.3" stroke-linejoin="round"/>
<polygon points="417.4,224.4 421.6,224.4 419.5,227.5" fill="#000" stroke="#000" stroke-width="0.3" stroke-linejoin="round"/>
<polygon points="419.4,223.50 423.6,223.50 421.5,226.60" fill="#000" stroke="#000" stroke-width="0.3" stroke-linejoin="round"/>
<polygon points="421.4,222.20 425.6,222.20 423.5,225.3" fill="#000" stroke="#000" stroke-width="0.3" stroke-linejoin="round"/>
<polygon points="423.4,221.3 427.6,221.3 425.5,224.4" fill="#000" stroke="#000" stroke-width="0.3" stroke-linejoin="round"/>
<polygon points="427.4,219.8 431.6,219.8 429.5,222.9" fill="#000" stroke="#000" stroke-width="0.3" stroke-linejoin="round"/>
<polygon points="429.4,218.8 433.6,218.8 431.5,221.9" fill="#000" stroke="#000" stroke-width="0.3" stroke-linejoin="round"/>
<polygon points="431.4,217.8 435.6,217.8 433.5,220.9" fill="#000" stroke="#000" stroke-width="0.3" stroke-linejoin="round"/>
<polygon points="433.4,217.4 437.6,217.4 435.5,220.5" fill="#000" stroke="#000" stroke-width="0.3" stroke-linejoin="round"/>
<polygon points="435.4,217.10 439.6,217.10 437.5,220.20" fill="#000" stroke="#000" stroke-width="0.3" stroke-linejoin="round"/>
<polygon points="437.4,216.8 441.6,216.8 439.5,219.9" fill="#000" stroke="#000" stroke-width="0.3" stroke-linejoin="round"/>
<line x1="85.5" y1="216" x2="85.5" y2="386.2" stroke="#000" stroke-width="1.2"/>
<polygon points="85.5,207.8 82.9,217.3 88.1,217.3" fill="#000"/>
<line x1="85.5" y1="364.2" x2="446.4" y2="364.2" stroke="#222" stroke-width="1.0"/>
<text x="78.7" y="297.6" font-size="9.3" text-anchor="middle" fill="#151515" transform="rotate(-90 78.7 297.6)">Test score</text>
<rect x="104.7" y="373.4" width="1.25" height="4.0" fill="#161616"/>
<rect x="106.7" y="373.4" width="1.25" height="4.0" fill="#161616"/>
<rect x="114.7" y="373.4" width="1.25" height="4.0" fill="#161616"/>
<rect x="118.7" y="373.4" width="1.25" height="4.0" fill="#161616"/>
<rect x="120.7" y="373.4" width="1.25" height="4.0" fill="#161616"/>
<rect x="126.7" y="373.4" width="1.25" height="4.0" fill="#161616"/>
<rect x="134.7" y="373.4" width="1.25" height="4.0" fill="#161616"/>
<rect x="136.7" y="373.4" width="1.25" height="4.0" fill="#161616"/>
<rect x="142.7" y="373.4" width="1.25" height="4.0" fill="#161616"/>
<rect x="148.7" y="373.4" width="1.25" height="4.0" fill="#161616"/>
<rect x="154.7" y="373.4" width="1.25" height="4.0" fill="#161616"/>
<rect x="158.7" y="373.4" width="1.25" height="4.0" fill="#161616"/>
<rect x="182.7" y="373.4" width="1.25" height="4.0" fill="#161616"/>
<rect x="184.7" y="373.4" width="1.25" height="4.0" fill="#161616"/>
<rect x="190.7" y="373.4" width="1.25" height="4.0" fill="#161616"/>
<rect x="196.7" y="373.4" width="1.25" height="4.0" fill="#161616"/>
<rect x="206.7" y="373.4" width="1.25" height="4.0" fill="#161616"/>
<rect x="208.7" y="373.4" width="1.25" height="4.0" fill="#161616"/>
<rect x="210.7" y="373.4" width="1.25" height="4.0" fill="#161616"/>
<rect x="212.7" y="373.4" width="1.25" height="4.0" fill="#161616"/>
<rect x="216.7" y="373.4" width="1.25" height="4.0" fill="#161616"/>
<rect x="226.7" y="373.4" width="1.25" height="4.0" fill="#161616"/>
<rect x="246.7" y="373.4" width="1.25" height="4.0" fill="#161616"/>
<rect x="248.7" y="373.4" width="1.25" height="4.0" fill="#161616"/>
<rect x="254.7" y="373.4" width="1.25" height="4.0" fill="#161616"/>
<rect x="256.7" y="373.4" width="1.25" height="4.0" fill="#161616"/>
<rect x="260.7" y="373.4" width="1.25" height="4.0" fill="#161616"/>
<rect x="262.7" y="373.4" width="1.25" height="4.0" fill="#161616"/>
<rect x="264.7" y="373.4" width="1.25" height="4.0" fill="#161616"/>
<rect x="270.7" y="373.4" width="1.25" height="4.0" fill="#161616"/>
<rect x="280.7" y="373.4" width="1.25" height="4.0" fill="#161616"/>
<rect x="288.7" y="373.4" width="1.25" height="4.0" fill="#161616"/>
<rect x="308.7" y="373.4" width="1.25" height="4.0" fill="#161616"/>
<rect x="312.7" y="373.4" width="1.25" height="4.0" fill="#161616"/>
<rect x="314.7" y="373.4" width="1.25" height="4.0" fill="#161616"/>
<rect x="316.7" y="373.4" width="1.25" height="4.0" fill="#161616"/>
<rect x="324.7" y="373.4" width="1.25" height="4.0" fill="#161616"/>
<rect x="326.7" y="373.4" width="1.25" height="4.0" fill="#161616"/>
<rect x="340.7" y="373.4" width="1.25" height="4.0" fill="#161616"/>
<rect x="342.7" y="373.4" width="1.25" height="4.0" fill="#161616"/>
<rect x="344.7" y="373.4" width="1.25" height="4.0" fill="#161616"/>
<rect x="354.7" y="373.4" width="1.25" height="4.0" fill="#161616"/>
<rect x="356.7" y="373.4" width="1.25" height="4.0" fill="#161616"/>
<rect x="358.7" y="373.4" width="1.25" height="4.0" fill="#161616"/>
<rect x="360.7" y="373.4" width="1.25" height="4.0" fill="#161616"/>
<rect x="362.7" y="373.4" width="1.25" height="4.0" fill="#161616"/>
<rect x="364.7" y="373.4" width="1.25" height="4.0" fill="#161616"/>
<rect x="378.7" y="373.4" width="1.25" height="4.0" fill="#161616"/>
<rect x="380.7" y="373.4" width="1.25" height="4.0" fill="#161616"/>
<rect x="392.7" y="373.4" width="1.25" height="4.0" fill="#161616"/>
<rect x="398.7" y="373.4" width="1.25" height="4.0" fill="#161616"/>
<rect x="400.7" y="373.4" width="1.25" height="4.0" fill="#161616"/>
<rect x="410.7" y="373.4" width="1.25" height="4.0" fill="#161616"/>
<rect x="412.7" y="373.4" width="1.25" height="4.0" fill="#161616"/>
<rect x="102.7" y="380.1" width="1.25" height="3.8" fill="#161616"/>
<rect x="108.7" y="380.1" width="1.25" height="3.8" fill="#161616"/>
<rect x="110.7" y="380.1" width="1.25" height="3.8" fill="#161616"/>
<rect x="112.7" y="380.1" width="1.25" height="3.8" fill="#161616"/>
<rect x="118.7" y="380.1" width="1.25" height="3.8" fill="#161616"/>
<rect x="124.7" y="380.1" width="1.25" height="3.8" fill="#161616"/>
<rect x="128.7" y="380.1" width="1.25" height="3.8" fill="#161616"/>
<rect x="130.7" y="380.1" width="1.25" height="3.8" fill="#161616"/>
<rect x="132.7" y="380.1" width="1.25" height="3.8" fill="#161616"/>
<rect x="138.7" y="380.1" width="1.25" height="3.8" fill="#161616"/>
<rect x="140.7" y="380.1" width="1.25" height="3.8" fill="#161616"/>
<rect x="144.7" y="380.1" width="1.25" height="3.8" fill="#161616"/>
<rect x="150.7" y="380.1" width="1.25" height="3.8" fill="#161616"/>
<rect x="152.7" y="380.1" width="1.25" height="3.8" fill="#161616"/>
<rect x="156.7" y="380.1" width="1.25" height="3.8" fill="#161616"/>
<rect x="160.7" y="380.1" width="1.25" height="3.8" fill="#161616"/>
<rect x="162.7" y="380.1" width="1.25" height="3.8" fill="#161616"/>
<rect x="164.7" y="380.1" width="1.25" height="3.8" fill="#161616"/>
<rect x="166.7" y="380.1" width="1.25" height="3.8" fill="#161616"/>
<rect x="168.7" y="380.1" width="1.25" height="3.8" fill="#161616"/>
<rect x="170.7" y="380.1" width="1.25" height="3.8" fill="#161616"/>
<rect x="172.7" y="380.1" width="1.25" height="3.8" fill="#161616"/>
<rect x="174.7" y="380.1" width="1.25" height="3.8" fill="#161616"/>
<rect x="176.7" y="380.1" width="1.25" height="3.8" fill="#161616"/>
<rect x="178.7" y="380.1" width="1.25" height="3.8" fill="#161616"/>
<rect x="180.7" y="380.1" width="1.25" height="3.8" fill="#161616"/>
<rect x="186.7" y="380.1" width="1.25" height="3.8" fill="#161616"/>
<rect x="188.7" y="380.1" width="1.25" height="3.8" fill="#161616"/>
<rect x="192.7" y="380.1" width="1.25" height="3.8" fill="#161616"/>
<rect x="198.7" y="380.1" width="1.25" height="3.8" fill="#161616"/>
<rect x="200.7" y="380.1" width="1.25" height="3.8" fill="#161616"/>
<rect x="202.7" y="380.1" width="1.25" height="3.8" fill="#161616"/>
<rect x="204.7" y="380.1" width="1.25" height="3.8" fill="#161616"/>
<rect x="214.7" y="380.1" width="1.25" height="3.8" fill="#161616"/>
<rect x="220.7" y="380.1" width="1.25" height="3.8" fill="#161616"/>
<rect x="222.7" y="380.1" width="1.25" height="3.8" fill="#161616"/>
<rect x="224.7" y="380.1" width="1.25" height="3.8" fill="#161616"/>
<rect x="228.7" y="380.1" width="1.25" height="3.8" fill="#161616"/>
<rect x="230.7" y="380.1" width="1.25" height="3.8" fill="#161616"/>
<rect x="232.7" y="380.1" width="1.25" height="3.8" fill="#161616"/>
<rect x="234.7" y="380.1" width="1.25" height="3.8" fill="#161616"/>
<rect x="236.7" y="380.1" width="1.25" height="3.8" fill="#161616"/>
<rect x="238.7" y="380.1" width="1.25" height="3.8" fill="#161616"/>
<rect x="240.7" y="380.1" width="1.25" height="3.8" fill="#161616"/>
<rect x="242.7" y="380.1" width="1.25" height="3.8" fill="#161616"/>
<rect x="244.7" y="380.1" width="1.25" height="3.8" fill="#161616"/>
<rect x="250.7" y="380.1" width="1.25" height="3.8" fill="#161616"/>
<rect x="252.7" y="380.1" width="1.25" height="3.8" fill="#161616"/>
<rect x="258.7" y="380.1" width="1.25" height="3.8" fill="#161616"/>
<rect x="268.7" y="380.1" width="1.25" height="3.8" fill="#161616"/>
<rect x="272.7" y="380.1" width="1.25" height="3.8" fill="#161616"/>
<rect x="274.7" y="380.1" width="1.25" height="3.8" fill="#161616"/>
<rect x="276.7" y="380.1" width="1.25" height="3.8" fill="#161616"/>
<rect x="278.7" y="380.1" width="1.25" height="3.8" fill="#161616"/>
<rect x="282.7" y="380.1" width="1.25" height="3.8" fill="#161616"/>
<rect x="284.7" y="380.1" width="1.25" height="3.8" fill="#161616"/>
<rect x="286.7" y="380.1" width="1.25" height="3.8" fill="#161616"/>
<rect x="290.7" y="380.1" width="1.25" height="3.8" fill="#161616"/>
<rect x="292.7" y="380.1" width="1.25" height="3.8" fill="#161616"/>
<rect x="294.7" y="380.1" width="1.25" height="3.8" fill="#161616"/>
<rect x="296.7" y="380.1" width="1.25" height="3.8" fill="#161616"/>
<rect x="298.7" y="380.1" width="1.25" height="3.8" fill="#161616"/>
<rect x="300.7" y="380.1" width="1.25" height="3.8" fill="#161616"/>
<rect x="302.7" y="380.1" width="1.25" height="3.8" fill="#161616"/>
<rect x="304.7" y="380.1" width="1.25" height="3.8" fill="#161616"/>
<rect x="306.7" y="380.1" width="1.25" height="3.8" fill="#161616"/>
<rect x="310.7" y="380.1" width="1.25" height="3.8" fill="#161616"/>
<rect x="318.7" y="380.1" width="1.25" height="3.8" fill="#161616"/>
<rect x="320.7" y="380.1" width="1.25" height="3.8" fill="#161616"/>
<rect x="328.7" y="380.1" width="1.25" height="3.8" fill="#161616"/>
<rect x="330.7" y="380.1" width="1.25" height="3.8" fill="#161616"/>
<rect x="332.7" y="380.1" width="1.25" height="3.8" fill="#161616"/>
<rect x="334.7" y="380.1" width="1.25" height="3.8" fill="#161616"/>
<rect x="336.7" y="380.1" width="1.25" height="3.8" fill="#161616"/>
<rect x="338.7" y="380.1" width="1.25" height="3.8" fill="#161616"/>
<rect x="348.7" y="380.1" width="1.25" height="3.8" fill="#161616"/>
<rect x="350.7" y="380.1" width="1.25" height="3.8" fill="#161616"/>
<rect x="366.7" y="380.1" width="1.25" height="3.8" fill="#161616"/>
<rect x="368.7" y="380.1" width="1.25" height="3.8" fill="#161616"/>
<rect x="370.7" y="380.1" width="1.25" height="3.8" fill="#161616"/>
<rect x="372.7" y="380.1" width="1.25" height="3.8" fill="#161616"/>
<rect x="374.7" y="380.1" width="1.25" height="3.8" fill="#161616"/>
<rect x="376.7" y="380.1" width="1.25" height="3.8" fill="#161616"/>
<rect x="382.7" y="380.1" width="1.25" height="3.8" fill="#161616"/>
<rect x="384.7" y="380.1" width="1.25" height="3.8" fill="#161616"/>
<rect x="386.7" y="380.1" width="1.25" height="3.8" fill="#161616"/>
<rect x="388.7" y="380.1" width="1.25" height="3.8" fill="#161616"/>
<rect x="390.7" y="380.1" width="1.25" height="3.8" fill="#161616"/>
<rect x="394.7" y="380.1" width="1.25" height="3.8" fill="#161616"/>
<rect x="402.7" y="380.1" width="1.25" height="3.8" fill="#161616"/>
<rect x="404.7" y="380.1" width="1.25" height="3.8" fill="#161616"/>
<rect x="406.7" y="380.1" width="1.25" height="3.8" fill="#161616"/>
<rect x="408.7" y="380.1" width="1.25" height="3.8" fill="#161616"/>
<rect x="414.7" y="380.1" width="1.25" height="3.8" fill="#161616"/>
<rect x="416.7" y="380.1" width="1.25" height="3.8" fill="#161616"/>
<rect x="418.7" y="380.1" width="1.25" height="3.8" fill="#161616"/>
<rect x="420.7" y="380.1" width="1.25" height="3.8" fill="#161616"/>
<rect x="422.7" y="380.1" width="1.25" height="3.8" fill="#161616"/>
<rect x="424.7" y="380.1" width="1.25" height="3.8" fill="#161616"/>
<rect x="426.7" y="380.1" width="1.25" height="3.8" fill="#161616"/>
<rect x="428.7" y="380.1" width="1.25" height="3.8" fill="#161616"/>
<rect x="430.7" y="380.1" width="1.25" height="3.8" fill="#161616"/>
<rect x="432.7" y="380.1" width="1.25" height="3.8" fill="#161616"/>
<rect x="434.7" y="380.1" width="1.25" height="3.8" fill="#161616"/>
<rect x="436.7" y="380.1" width="1.25" height="3.8" fill="#161616"/>
<rect x="438.7" y="380.1" width="1.25" height="3.8" fill="#161616"/>
<text x="460.8" y="375.7" font-size="9.2" text-anchor="start" font-weight="normal" fill="#151515" >VS1</text>
<text x="460.8" y="385.0" font-size="9.2" text-anchor="start" font-weight="normal" fill="#151515" >VS2</text>
</svg>
<div class="b" style="left:0;top:0;width:520px;height:1px;background:#4f4f4f"></div>
<div class="b" style="left:0;top:1px;width:520px;height:1px;background:#a8a8a8"></div>
<div class="b" style="left:0;top:0;width:1px;height:405px;background:#4f4f4f"></div>
<div class="b" style="left:1px;top:1px;width:1px;height:404px;background:#a8a8a8"></div>
<div class="b" style="left:518px;top:0;width:1px;height:405px;background:#9a9a9a"></div>
<div class="b" style="left:519px;top:0;width:1px;height:405px;background:#4f4f4f"></div>
<div class="b" style="left:0;top:403px;width:520px;height:2px;background:#8a8a8a"></div>
</div></body></html>
